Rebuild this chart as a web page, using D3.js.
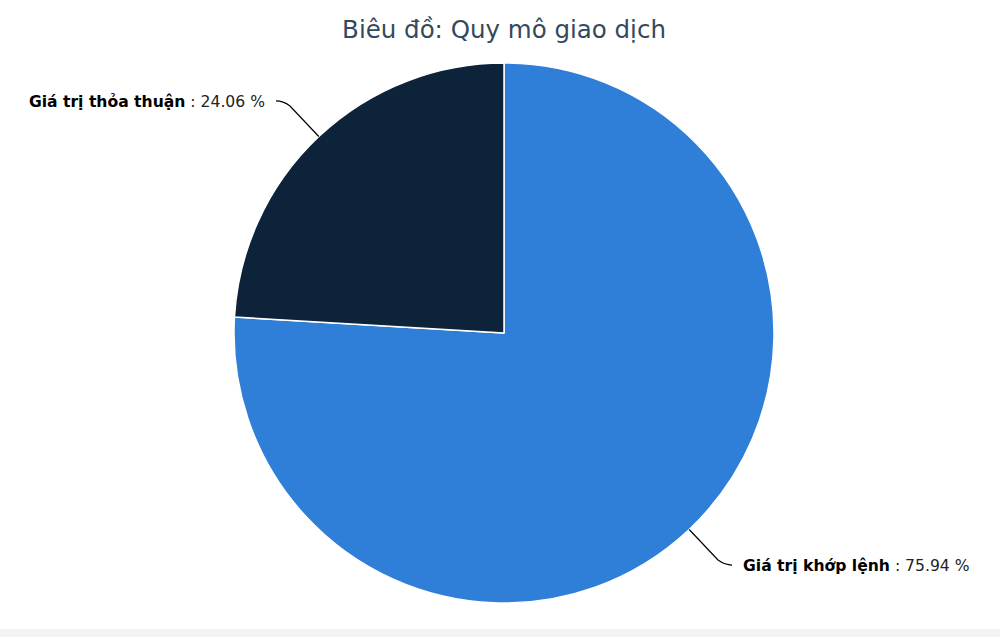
<!DOCTYPE html>
<html>
<head>
<meta charset="utf-8">
<script src="https://cdn.jsdelivr.net/npm/d3@7"></script>
<style>
  body { margin: 0; background: #fff; }
  svg { display: block; }
</style>
</head>
<body>
<div id="chart"></div>
<script>
// Datos del grafico
tenGiaoDich = ['Giá trị khớp lệnh', 'Giá trị thỏa thuận']
tyLe        = [75.94, 24.06]
mauSac      = ['#2f7ed8', '#0d233a']
tieuDe      = 'Biêu đồ: Quy mô giao dịch'

anchototal = 1000
altototal  = 637

cx = 504
cy = 333
radio = 270

svg = d3.select('#chart')
        .append('svg')
        .attr('width', anchototal)
        .attr('height', altototal)

// franja gris inferior
svg.append('rect')
   .attr('x', 0).attr('y', 629)
   .attr('width', anchototal).attr('height', altototal - 629)
   .attr('fill', '#f3f3f3')

svg.append('text')
   .attr('x', cx)
   .attr('y', 38)
   .attr('text-anchor', 'middle')
   .attr('font-family', 'DejaVu Sans')
   .attr('font-size', 24.5)
   .attr('fill', '#34495e')
   .text(tieuDe)

datos = tenGiaoDich.map((n, i) => ({ nombre: n, valor: tyLe[i] }))
total = d3.sum(datos, d => d.valor)

color = d3.scaleOrdinal().domain(tenGiaoDich).range(mauSac)

pie = d3.pie().sort(null).value(d => d.valor)
arc = d3.arc().innerRadius(0).outerRadius(radio)
arcBorde = d3.arc().innerRadius(radio).outerRadius(radio)
arcCodo  = d3.arc().innerRadius(radio + 42).outerRadius(radio + 42)

gPie = svg.append('g')
          .attr('transform', `translate(${cx}, ${cy})`)

partes = pie(datos)

gPie.selectAll('.part')
    .data(partes)
    .enter()
    .append('path')
      .attr('class', 'part')
      .attr('d', arc)
      .attr('fill', d => color(d.data.nombre))
      .attr('stroke', '#fff')
      .attr('stroke-width', 1.5)
      .attr('stroke-linejoin', 'round')

// conectores y etiquetas
etiquetas = gPie.selectAll('.lbl')
    .data(partes)
    .enter()
    .append('g')
      .attr('class', 'lbl')

etiquetas.each(function(d) {
  g = d3.select(this)
  borde = arcBorde.centroid(d)
  codo  = arcCodo.centroid(d)
  lado  = codo[0] > 0 ? 1 : -1
  fin   = [codo[0] + lado * 14, codo[1] + lado * 5]

  g.append('path')
   .attr('fill', 'none')
   .attr('stroke', '#000')
   .attr('stroke-width', 1.2)
   .attr('d', `M${borde[0]},${borde[1]} L${codo[0]},${codo[1]} Q${codo[0] + lado * 7},${fin[1]} ${fin[0]},${fin[1]}`)

  t = g.append('text')
       .attr('x', fin[0] + lado * 11)
       .attr('y', fin[1] + 6)
       .attr('text-anchor', lado > 0 ? 'start' : 'end')
       .attr('font-family', 'DejaVu Sans')
       .attr('font-size', 15.6)
       .attr('fill', '#000')
  t.append('tspan')
   .attr('font-weight', 'bold')
   .text(d.data.nombre)
  t.append('tspan')
   .attr('fill', '#222')
   .text(' : ' + (d.data.valor / total * 100).toFixed(2) + ' %')
})
</script>
</body>
</html>
